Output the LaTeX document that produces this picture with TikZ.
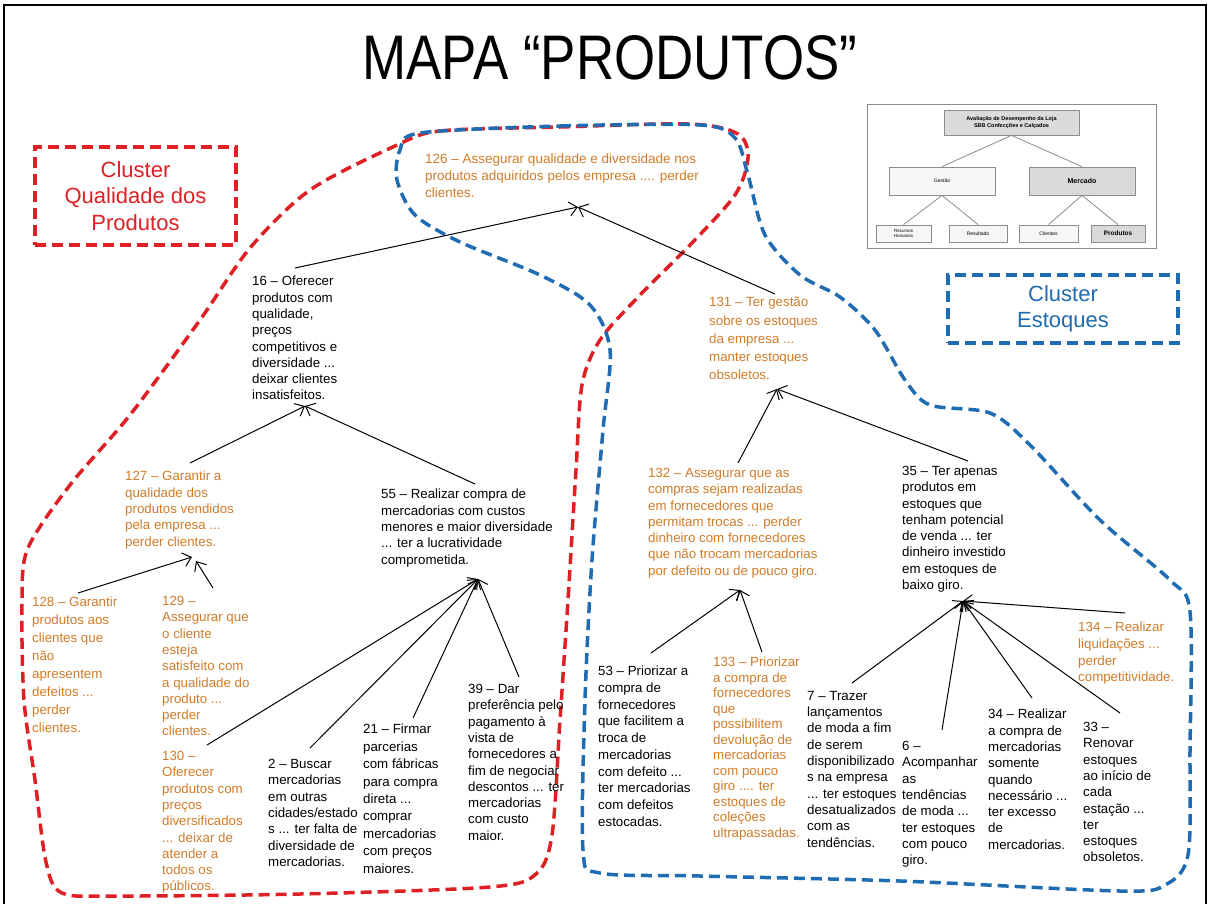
\documentclass[tikz,border=0pt]{standalone}
\usepackage{fontspec}
\setmainfont{Liberation Sans}
\usetikzlibrary{arrows.meta}
\definecolor{orangetxt}{RGB}{208,124,42}
\definecolor{clred}{RGB}{222,32,36}
\definecolor{clblue}{RGB}{31,108,178}
\definecolor{insetgray}{RGB}{140,140,140}
\begin{document}
\begin{tikzpicture}[x=1pt,y=-1pt,
  txt/.style={anchor=north west,inner sep=0pt,align=left,font=\fontsize{13.3}{16.3}\selectfont},
  org/.style={txt,text=orangetxt},
  arr/.style={-{Straight Barb[length=8pt,width=14pt]},line width=1pt},
  clusterline/.style={line width=3.5pt,dash pattern=on 11pt off 6pt},
  ibox/.style={draw=insetgray,line width=0.8pt,inner sep=0pt,align=center,font=\fontsize{5}{6}\selectfont},
  iline/.style={draw=insetgray,line width=0.8pt}]
\useasboundingbox (0,0) rectangle (1210,903);
\fill[white] (0,0) rectangle (1210,903);
% slide frame
\draw[line width=2.5pt] (4,930) -- (4,5) -- (1206,5) -- (1206,930);

% cluster outlines
\draw[clusterline,clred] plot[smooth cycle,tension=0.5] coordinates {
  (395,146) (440,131) (560,127) (690,124) (738,134) (748,158) (735,195)
  (690,245) (640,295) (600,340) (582,385) (576,470) (568,600) (560,720)
  (552,835) (536,874) (490,887) (300,894) (120,896) (62,893) (46,862)
  (35,780) (24,700) (22,600) (28,548) (70,485) (130,415) (200,320)
  (250,248) (310,190)};
\draw[clusterline,clblue] plot[smooth cycle,tension=0.5] coordinates {
  (420,133) (560,126) (700,125) (735,138) (748,175) (765,235) (800,275)
  (840,297) (875,330) (905,380) (930,405) (990,413) (1030,445) (1100,520)
  (1170,580) (1190,612) (1190,750) (1188,855) (1165,885) (1120,891)
  (900,881) (700,876) (600,873) (583,850) (585,700) (592,560) (603,430)
  (610,350) (590,305) (540,275) (460,242) (415,215) (397,180) (400,150)};

% title
\node[inner sep=0pt,font=\fontsize{63}{70}\selectfont] (title) at (610,58)
  {\scalebox{0.84}[1]{MAPA “PRODUTOS”}};

% cluster labels
\node[draw=clred,clusterline,text=clred,font=\fontsize{22}{26.5}\selectfont,align=center,
  minimum width=201pt,minimum height=98pt,inner sep=0pt] (cq) at (135.5,196)
  {Cluster\\Qualidade dos\\Produtos};
\node[draw=clblue,clusterline,text=clblue,font=\fontsize{22}{26.5}\selectfont,align=center,
  minimum width=230pt,minimum height=68pt,inner sep=0pt] (ce) at (1063,309)
  {Cluster\\Estoques};

% hierarchy inset
\draw[insetgray,line width=1pt,fill=white] (867,104) rectangle (1156,248);
\node[ibox,fill=gray!28,minimum width=135pt,minimum height=25pt,font=\fontsize{5.5}{6.5}\selectfont\bfseries] (iav) at (1011.5,122.5)
  {Avaliação de Desempenho da Loja\\SBB Confecções e Calçados};
\node[ibox,fill=gray!7,minimum width=106pt,minimum height=28pt] (ig) at (942,181) {Gestão};
\node[ibox,fill=gray!30,minimum width=106pt,minimum height=28pt,font=\fontsize{7}{8}\selectfont\bfseries] (im) at (1082,181) {Mercado};
\node[ibox,fill=gray!7,minimum width=55pt,minimum height=17pt,font=\fontsize{4.5}{5}\selectfont] (irh) at (903.5,233.5) {Recursos\\Humanos};
\node[ibox,fill=gray!7,minimum width=58pt,minimum height=17pt] (ires) at (978,233.5) {Resultado};
\node[ibox,fill=gray!7,minimum width=59pt,minimum height=17pt] (icl) at (1048.5,233.5) {Clientes};
\node[ibox,fill=gray!30,minimum width=54pt,minimum height=17pt,font=\fontsize{6.5}{7}\selectfont\bfseries] (ipr) at (1118,233.5) {Produtos};
\draw[iline] (iav.south) -- (ig.north);
\draw[iline] (iav.south) -- (im.north);
\draw[iline] (ig.south) -- (irh.north);
\draw[iline] (ig.south) -- (ires.north);
\draw[iline] (im.south) -- (icl.north);
\draw[iline] (im.south) -- (ipr.north);

% concepts
\node[org,font=\fontsize{13.5}{17}\selectfont] (n126) at (425,154)
  {126 – Assegurar qualidade e diversidade nos\\produtos adquiridos pelos empresa .... perder\\clientes.};
\node[txt] (n16) at (252,276)
  {16 – Oferecer\\produtos com\\qualidade,\\preços\\competitivos e\\diversidade ...\\deixar clientes\\insatisfeitos.};
\node[org] (n127) at (125,471)
  {127 – Garantir a\\qualidade dos\\produtos vendidos\\pela empresa ...\\perder clientes.};
\node[txt] (n55) at (381,489)
  {55 – Realizar compra de\\mercadorias com custos\\menores e maior diversidade\\... ter a lucratividade\\comprometida.};
\node[org,font=\fontsize{13.3}{17.9}\selectfont] (n128) at (32,597)
  {128 – Garantir\\produtos aos\\clientes que\\não\\apresentem\\defeitos ...\\perder\\clientes.};
\node[org] (n129) at (162,596)
  {129 –\\Assegurar que\\o cliente\\esteja\\satisfeito com\\a qualidade do\\produto ...\\perder\\clientes.};
\node[org] (n130) at (162,751)
  {130 –\\Oferecer\\produtos com\\preços\\diversificados\\... deixar de\\atender a\\todos os\\públicos.};
\node[txt] (n2) at (268,759)
  {2 – Buscar\\mercadorias\\em outras\\cidades/estado\\s ... ter falta de\\diversidade de\\mercadorias.};
\node[txt,font=\fontsize{13.3}{17.4}\selectfont] (n21) at (363,724)
  {21 – Firmar\\parcerias\\com fábricas\\para compra\\direta ...\\comprar\\mercadorias\\com preços\\maiores.};
\node[txt] (n39) at (468,684)
  {39 – Dar\\preferência pelo\\pagamento à\\vista de\\fornecedores a\\fim de negociar\\descontos ... ter\\mercadorias\\com custo\\maior.};
\node[org,font=\fontsize{13.3}{18.3}\selectfont] (n131) at (709,297)
  {131 – Ter gestão\\sobre os estoques\\da empresa ...\\manter estoques\\obsoletos.};
\node[org] (n132) at (648,468)
  {132 – Assegurar que as\\compras sejam realizadas\\em fornecedores que\\permitam trocas ... perder\\dinheiro com fornecedores\\que não trocam mercadorias\\por defeito ou de pouco giro.};
\node[txt] (n35) at (902,466)
  {35 – Ter apenas\\produtos em\\estoques que\\tenham potencial\\de venda ... ter\\dinheiro investido\\em estoques de\\baixo giro.};
\node[txt,font=\fontsize{13.3}{16.7}\selectfont] (n53) at (598,666)
  {53 – Priorizar a\\compra de\\fornecedores\\que facilitem a\\troca de\\mercadorias\\com defeito ...\\ter mercadorias\\com defeitos\\estocadas.};
\node[org,font=\fontsize{13.3}{15.5}\selectfont] (n133) at (713,657)
  {133 – Priorizar\\a compra de\\fornecedores\\que\\possibilitem\\devolução de\\mercadorias\\com pouco\\giro .... ter\\estoques de\\coleções\\ultrapassadas.};
\node[txt] (n7) at (807,691)
  {7 – Trazer\\lançamentos\\de moda a fim\\de serem\\disponibilizado\\s na empresa\\... ter estoques\\desatualizados\\com as\\tendências.};
\node[txt] (n6) at (902,741)
  {6 –\\Acompanhar\\as\\tendências\\de moda ...\\ter estoques\\com pouco\\giro.};
\node[txt] (n34) at (988,709)
  {34 – Realizar\\a compra de\\mercadorias\\somente\\quando\\necessário ...\\ter excesso\\de\\mercadorias.};
\node[txt] (n33) at (1083,722)
  {33 –\\Renovar\\estoques\\ao início de\\cada\\estação ...\\ter\\estoques\\obsoletos.};
\node[org,font=\fontsize{13.3}{16.7}\selectfont] (n134) at (1078,622)
  {134 – Realizar\\liquidações ...\\perder\\competitividade.};

% links
\draw[arr] ([shift={(43,-8)}]n16.north west) -- ([shift={(153,53)}]n126.north west);
\draw[arr] ([shift={(66,-3)}]n131.north west) -- ([shift={(153,53)}]n126.north west);
\draw[arr] ([shift={(65,-8)}]n127.north west) -- ([shift={(53,130)}]n16.north west);
\draw[arr] ([shift={(94,-5)}]n55.north west) -- ([shift={(53,130)}]n16.north west);
\draw[arr] ([shift={(46,-4)}]n128.north west) -- ([shift={(67,86)}]n127.north west);
\draw[arr] ([shift={(51,-8)}]n129.north west) -- ([shift={(71,90)}]n127.north west);
\draw[arr] ([shift={(45,-6)}]n130.north west) -- ([shift={(97,90)}]n55.north west);
\draw[arr] ([shift={(42,-11)}]n2.north west) -- ([shift={(97,90)}]n55.north west);
\draw[arr] ([shift={(50,-6)}]n21.north west) -- ([shift={(97,90)}]n55.north west);
\draw[arr] ([shift={(51,-7)}]n39.north west) -- ([shift={(97,90)}]n55.north west);
\draw[arr] ([shift={(90,-5)}]n132.north west) -- ([shift={(68,92)}]n131.north west);
\draw[arr] ([shift={(66,-5)}]n35.north west) -- ([shift={(68,92)}]n131.north west);
\draw[arr] ([shift={(53,-13)}]n53.north west) -- ([shift={(92,122)}]n132.north west);
\draw[arr] ([shift={(49,-5)}]n133.north west) -- ([shift={(92,122)}]n132.north west);
\draw[arr] ([shift={(45,-8)}]n7.north west) -- ([shift={(61,135)}]n35.north west);
\draw[arr] ([shift={(40,-11)}]n6.north west) -- ([shift={(61,135)}]n35.north west);
\draw[arr] ([shift={(44,-11)}]n34.north west) -- ([shift={(61,135)}]n35.north west);
\draw[arr] ([shift={(37,-9)}]n33.north west) -- ([shift={(61,135)}]n35.north west);
\draw[arr] ([shift={(47,-9)}]n134.north west) -- ([shift={(61,135)}]n35.north west);
\end{tikzpicture}
\end{document}
